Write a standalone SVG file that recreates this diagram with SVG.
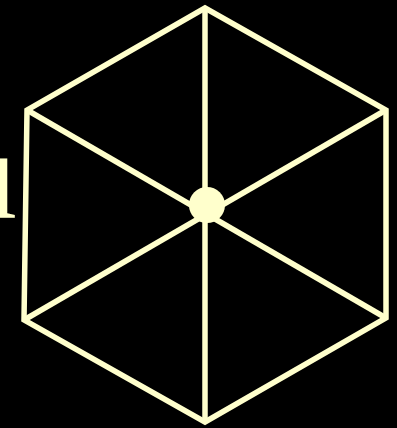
<svg xmlns="http://www.w3.org/2000/svg" width="397" height="428" viewBox="0 0 397 428">
<style>
.ln{stroke:#FFFFCC;stroke-width:5.5;fill:none;stroke-linejoin:miter;stroke-linecap:butt}
.lbl{font-family:"Liberation Serif","Times New Roman",serif;fill:#FFFFCC}
</style>
<rect width="397" height="428" fill="#000000"/>
<g id="label">
<text class="lbl" x="-48" y="218" font-size="130">u</text>
</g>
<g id="connectors">
<polygon class="ln" points="205,8 386,110 386,318 205,422 24,320 27,110"/>
<line class="ln" x1="205" y1="8" x2="205" y2="422"/>
<line class="ln" x1="27" y1="110" x2="386" y2="318"/>
<line class="ln" x1="24" y1="320" x2="386" y2="110"/>
</g>
<g id="center">
<circle cx="207" cy="205" r="18" fill="#FFFFCC"/>
</g>
</svg>
